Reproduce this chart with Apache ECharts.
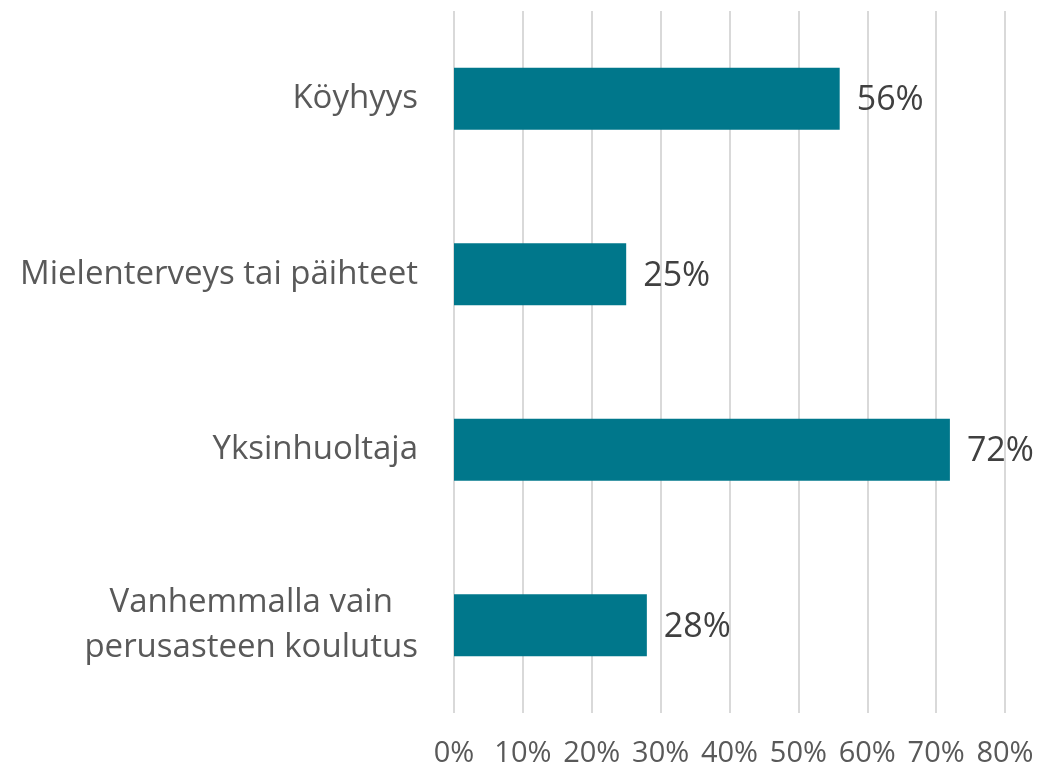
<!DOCTYPE html>
<html>
<head>
<meta charset="utf-8">
<script src="https://cdn.jsdelivr.net/npm/echarts@6/dist/echarts.min.js"></script>
<style>
html, body { margin: 0; padding: 0; background: #fff; }
#chart { width: 1037px; height: 768px; }
</style>
</head>
<body>
<div id="chart"></div>
<script>
// data
const categories = ['Köyhyys', 'Mielenterveys tai päihteet', 'Yksinhuoltaja', 'Vanhemmalla vain\nperusasteen koulutus']
const values = [56, 25, 72, 28]
const tickLabels = ['0%', '10%', '20%', '30%', '40%', '50%', '60%', '70%', '80%']

const FONT = '"Open Sans"'
const chart = echarts.init(document.getElementById('chart'))
const option = {
    animation: false,
    grid: { left: 454, right: 32, top: 11, bottom: 55 },
    xAxis: {
        type: 'value',
        min: 0,
        max: 80,
        interval: 10,
        axisLine: { show: false },
        axisTick: { show: false },
        splitLine: { lineStyle: { color: '#d9d9d9', width: 2 } },
        axisLabel: {
            margin: 26,
            color: '#595959',
            fontFamily: FONT,
            fontSize: 29,
            formatter: (v) => tickLabels[v / 10]
        }
    },
    yAxis: {
        type: 'category',
        inverse: true,
        data: categories,
        axisLine: { show: false },
        axisTick: { show: false },
        axisLabel: {
            margin: 36,
            color: '#595959',
            fontFamily: FONT,
            fontSize: 33,
            lineHeight: 45,
            formatter: (v) => v.split('\n').map(s => '{c|' + s + '}').join('\n'),
            rich: {
                c: { align: 'center', color: '#595959', fontFamily: FONT, fontSize: 33, lineHeight: 45 }
            }
        }
    },
    series: [{
        type: 'bar',
        data: values,
        barWidth: 62,
        itemStyle: { color: '#00778b' },
        label: {
            show: true,
            position: 'right',
            distance: 17,
            offset: [0, 2],
            color: '#404040',
            fontFamily: FONT,
            fontSize: 34,
            formatter: (p) => p.value + '%'
        }
    }]
}
chart.setOption(option)
</script>
</body>
</html>
